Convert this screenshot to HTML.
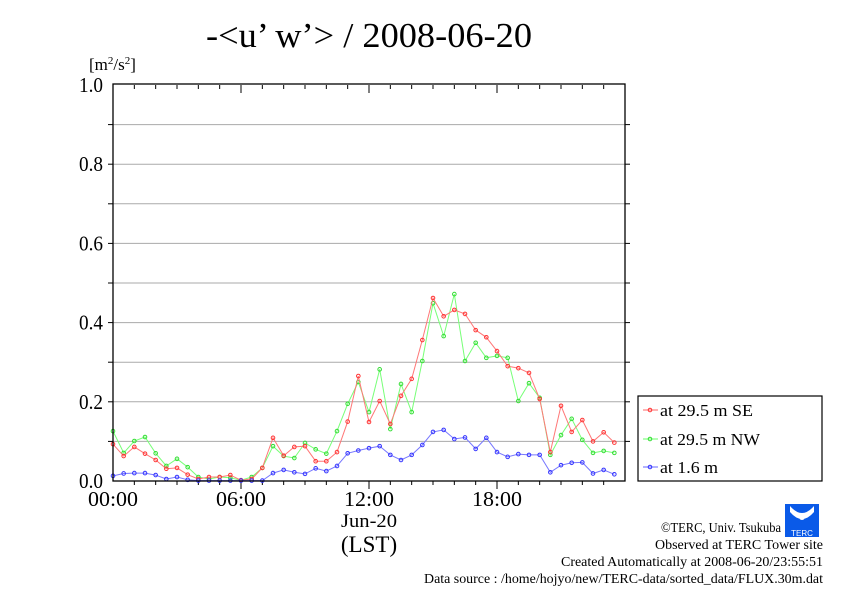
<!DOCTYPE html>
<html><head><meta charset="utf-8"><style>
body{margin:0;background:#fff;}
svg{display:block;font-family:"Liberation Serif",serif;}
</style></head><body>
<svg id="chart" width="842" height="595" viewBox="0 0 842 595" xmlns="http://www.w3.org/2000/svg">
<text x="369" y="47" font-size="35" text-anchor="middle" textLength="326" lengthAdjust="spacingAndGlyphs">-&lt;u’ w’&gt; / 2008-06-20</text>
<text x="89" y="70" font-size="17">[m<tspan dy="-6" font-size="11">2</tspan><tspan dy="6">/s</tspan><tspan dy="-6" font-size="11">2</tspan><tspan dy="6">]</tspan></text>
<g id="grid"></g>
<g id="ticks"></g>
<g id="series"></g>
<rect x="113" y="84" width="512" height="397" fill="none" stroke="#000" stroke-width="1.3"/>
<text x="369" y="527" font-size="19" text-anchor="middle" textLength="56" lengthAdjust="spacingAndGlyphs">Jun-20</text>
<text x="369" y="552" font-size="23" text-anchor="middle">(LST)</text>
<g>
<rect x="638" y="396" width="184" height="85" fill="#fff" stroke="#000" stroke-width="1.2"/>
<g><line x1="643" y1="410" x2="658" y2="410" stroke="#f66"/><circle cx="650" cy="410" r="1.8" fill="none" stroke="#f33"/><text x="660" y="416" font-size="17" textLength="93" lengthAdjust="spacingAndGlyphs">at 29.5 m SE</text></g>
<g><line x1="643" y1="439" x2="658" y2="439" stroke="#6f6"/><circle cx="650" cy="439" r="1.8" fill="none" stroke="#3d3"/><text x="660" y="445" font-size="17" textLength="100" lengthAdjust="spacingAndGlyphs">at 29.5 m NW</text></g>
<g><line x1="643" y1="467" x2="658" y2="467" stroke="#66f"/><circle cx="650" cy="467" r="1.8" fill="none" stroke="#33f"/><text x="660" y="473" font-size="17" textLength="58" lengthAdjust="spacingAndGlyphs">at 1.6 m</text></g>
</g>
<g>
<rect x="785" y="504" width="34" height="33" fill="#0a5ae8"/>
<path d="M790 506 Q802 520 814 506 L814 512 Q802 526 790 512Z" fill="#fff"/>
<circle cx="802" cy="517" r="3" fill="#fff"/>
<text x="802" y="536" font-size="8" fill="#fff" text-anchor="middle" font-family="Liberation Sans,sans-serif">TERC</text>
</g>
<g font-size="13.5" text-anchor="end">
<text x="781" y="532" textLength="120" lengthAdjust="spacingAndGlyphs">©TERC, Univ. Tsukuba</text>
<text x="823" y="549" textLength="168" lengthAdjust="spacingAndGlyphs">Observed at TERC Tower site</text>
<text x="823" y="566" textLength="262" lengthAdjust="spacingAndGlyphs">Created Automatically at 2008-06-20/23:55:51</text>
<text x="823" y="583" textLength="399" lengthAdjust="spacingAndGlyphs">Data source : /home/hojyo/new/TERC-data/sorted_data/FLUX.30m.dat</text>
</g>
</svg>
<script>
const yTicks=[0.0,0.2,0.4,0.6,0.8,1.0];
const yTickLabels=["0.0","0.2","0.4","0.6","0.8","1.0"];
const xTickHours=[0,6,12,18];
const xTickLabels=["00:00","06:00","12:00","18:00"];
const seriesSE=[0.093,0.063,0.086,0.069,0.053,0.031,0.033,0.016,0.005,0.01,0.01,0.015,0.002,0.005,0.033,0.109,0.064,0.086,0.088,0.05,0.05,0.073,0.15,0.265,0.149,0.202,0.144,0.215,0.258,0.356,0.462,0.416,0.432,0.422,0.381,0.363,0.328,0.29,0.285,0.273,0.207,0.073,0.19,0.124,0.154,0.1,0.123,0.097];
const seriesNW=[0.126,0.071,0.101,0.111,0.07,0.038,0.056,0.035,0.01,0.005,0.01,0.008,0.002,0.01,0.033,0.088,0.063,0.058,0.096,0.08,0.069,0.126,0.195,0.25,0.174,0.282,0.131,0.245,0.174,0.303,0.449,0.366,0.472,0.303,0.349,0.311,0.316,0.311,0.202,0.247,0.21,0.066,0.116,0.157,0.104,0.071,0.076,0.071];
const series16=[0.013,0.019,0.02,0.02,0.015,0.005,0.01,0.003,0.001,0.001,0.001,0.001,0.001,0.001,0.001,0.02,0.028,0.022,0.018,0.032,0.025,0.038,0.07,0.077,0.083,0.088,0.066,0.053,0.066,0.091,0.124,0.129,0.106,0.11,0.081,0.109,0.073,0.061,0.068,0.066,0.066,0.022,0.04,0.046,0.047,0.019,0.028,0.017];
const NS="http://www.w3.org/2000/svg";
const X0=113,X1=625,Y0=481,Y1=85;
function xs(h){return X0+(h/24)*(X1-X0);}
function ys(v){return Y0-v*(Y0-Y1);}
function mk(tag,attrs,parent){const e=document.createElementNS(NS,tag);for(const k in attrs)e.setAttribute(k,attrs[k]);parent.appendChild(e);return e;}
const grid=document.getElementById('grid'),ticks=document.getElementById('ticks'),ser=document.getElementById('series');
for(let i=1;i<10;i++){const l=mk('line',{x1:X0,x2:X1,y1:ys(i/10),y2:ys(i/10),stroke:'#aaa','stroke-width':1},grid);


const t=mk('line',{x1:X0-5,x2:X0,y1:ys(i/10),y2:ys(i/10),stroke:'#000'},ticks);


const t2=mk('line',{x1:X1,x2:X1+5,y1:ys(i/10),y2:ys(i/10),stroke:'#000'},ticks);

}
yTicks.forEach((v,i)=>{const t=mk('text',{x:X0-10,y:ys(v)+7,'font-size':21,'text-anchor':'end',textLength:24,lengthAdjust:'spacingAndGlyphs'},ticks);t.textContent=yTickLabels[i];

});
for(let h=1;h<24;h++){const len=h%6===0?8:4;
const a=mk('line',{x1:xs(h),x2:xs(h),y1:Y0,y2:Y0+len,stroke:'#000'},ticks);


const b=mk('line',{x1:xs(h),x2:xs(h),y1:Y1,y2:Y1+len,stroke:'#000'},ticks);

}
xTickHours.forEach((h,i)=>{const t=mk('text',{x:xs(h),y:506,'font-size':21,'text-anchor':'middle',textLength:50,lengthAdjust:'spacingAndGlyphs'},ticks);t.textContent=xTickLabels[i];

});
function draw(data,line,pt,name){
const pts=data.map((v,i)=>xs(i/2).toFixed(1)+','+ys(v).toFixed(1)).join(' ');
const pl=mk('polyline',{points:pts,fill:'none',stroke:line,'stroke-width':1},ser);


data.forEach((v,i)=>{const c=mk('circle',{cx:xs(i/2),cy:ys(v),r:1.8,fill:'none',stroke:pt,'stroke-width':1},ser);

});}
draw(seriesNW,'#7f7','#3d3','series-nw');
draw(seriesSE,'#f77','#f33','series-se');
draw(series16,'#77f','#33f','series-1-6m');
</script>
</body></html>
